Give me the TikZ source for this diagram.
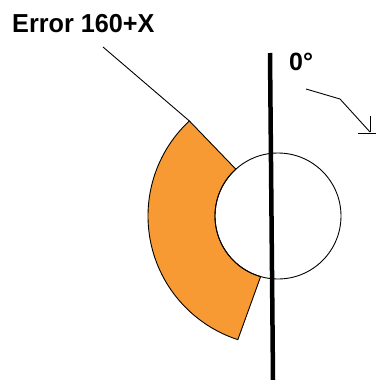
\documentclass[tikz,border=0pt]{standalone}
\usepackage{fontspec}
\setmainfont{Liberation Sans}
\definecolor{sectorfill}{RGB}{248,154,52}
\begin{document}
\begin{tikzpicture}[x=1pt,y=-1pt,
  thinline/.style={draw=black,line width=0.9pt},
  lbl/.style={font=\bfseries,inner sep=0pt,anchor=base west}]
\useasboundingbox (0,0) rectangle (376,380);
\coordinate (c) at (278,216);
% sector
\draw[thinline,fill=sectorfill] ([shift={(106:63)}]c) coordinate (ib)
  arc[start angle=106,end angle=228,radius=63] coordinate (it)
  -- ([shift={(227:130)}]c) coordinate (ot)
  arc[start angle=227,end angle=108,radius=130] coordinate (ob) -- cycle;
% circle
\draw[thinline] (c) circle[radius=63];
% vertical line
\coordinate (vt) at (270,53);
\coordinate (vb) at (273,380);
\draw[line width=4.5pt] (vt) -- (vb);
% label and leader
\node[lbl,font=\fontsize{26}{30}\selectfont\bfseries,xscale=0.97] (err) at (12,32) {Error 160+X};
\coordinate (ls) at (103,47);
\draw[thinline] (ls) -- (ot);
% zero label
\node[lbl,font=\fontsize{25}{29}\selectfont\bfseries] (zero) at (289,70) {0°};
% arrow
\coordinate (a1) at (306,89);
\coordinate (a2) at (340,99);
\coordinate (a3) at (370,132);
\draw[thinline] (a1) -- (a2) -- (a3);
\coordinate (h1) at (370,116);
\coordinate (h2) at (358,133);
\coordinate (h3) at (376,133);
\draw[thinline] (h1) -- (a3);
\draw[thinline] (h2) -- (h3);
\end{tikzpicture}
\end{document}
